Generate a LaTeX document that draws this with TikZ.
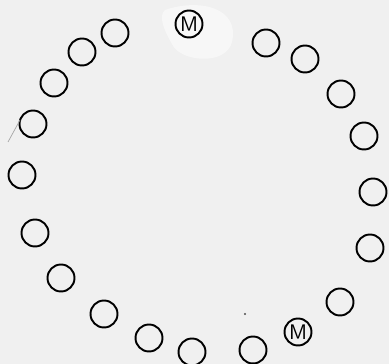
\documentclass[tikz,border=0pt]{standalone}
\begin{document}
\begin{tikzpicture}[x=0.02cm,y=-0.02cm]
  \tikzset{ring/.style={draw,circle,line width=1.1pt,minimum size=0.54cm,inner sep=0pt,font=\sffamily\large}}
  % 背景
  \fill[gray!12] (0,0) rectangle (389,364);
  \useasboundingbox (0,0) rectangle (389,364);
  % 白色痕迹
  \fill[white,opacity=0.5] (165,10) .. controls (200,-2) and (240,8) .. (232,42) .. controls (226,66) and (180,62) .. (172,44) .. controls (164,30) and (158,16) .. (165,10);
  % 空圆圈
  \foreach \x/\y/\n in {266/43/2, 305/59/3, 341/94/4, 364/136/5, 373/192/6,
      370/248/7, 340/302/8, 253/350/10, 192/352/11, 149/338/12,
      104/314/13, 61/278/14, 35/233/15, 22/175/16, 33/124/17,
      54/83/18, 82/52/19, 115/33/20}
    \node[ring] (c\n) at (\x,\y) {};
  % 标有 M 的圆圈
  \node[ring] (c1) at (189,24) {M};
  \node[ring] (c9) at (298,332) {M};
  % 铅笔痕迹
  \draw[gray!70,line width=0.4pt] (8,142) -- (20,120);
  \fill[black!70] (245,314) circle (1.2);
\end{tikzpicture}
\end{document}
